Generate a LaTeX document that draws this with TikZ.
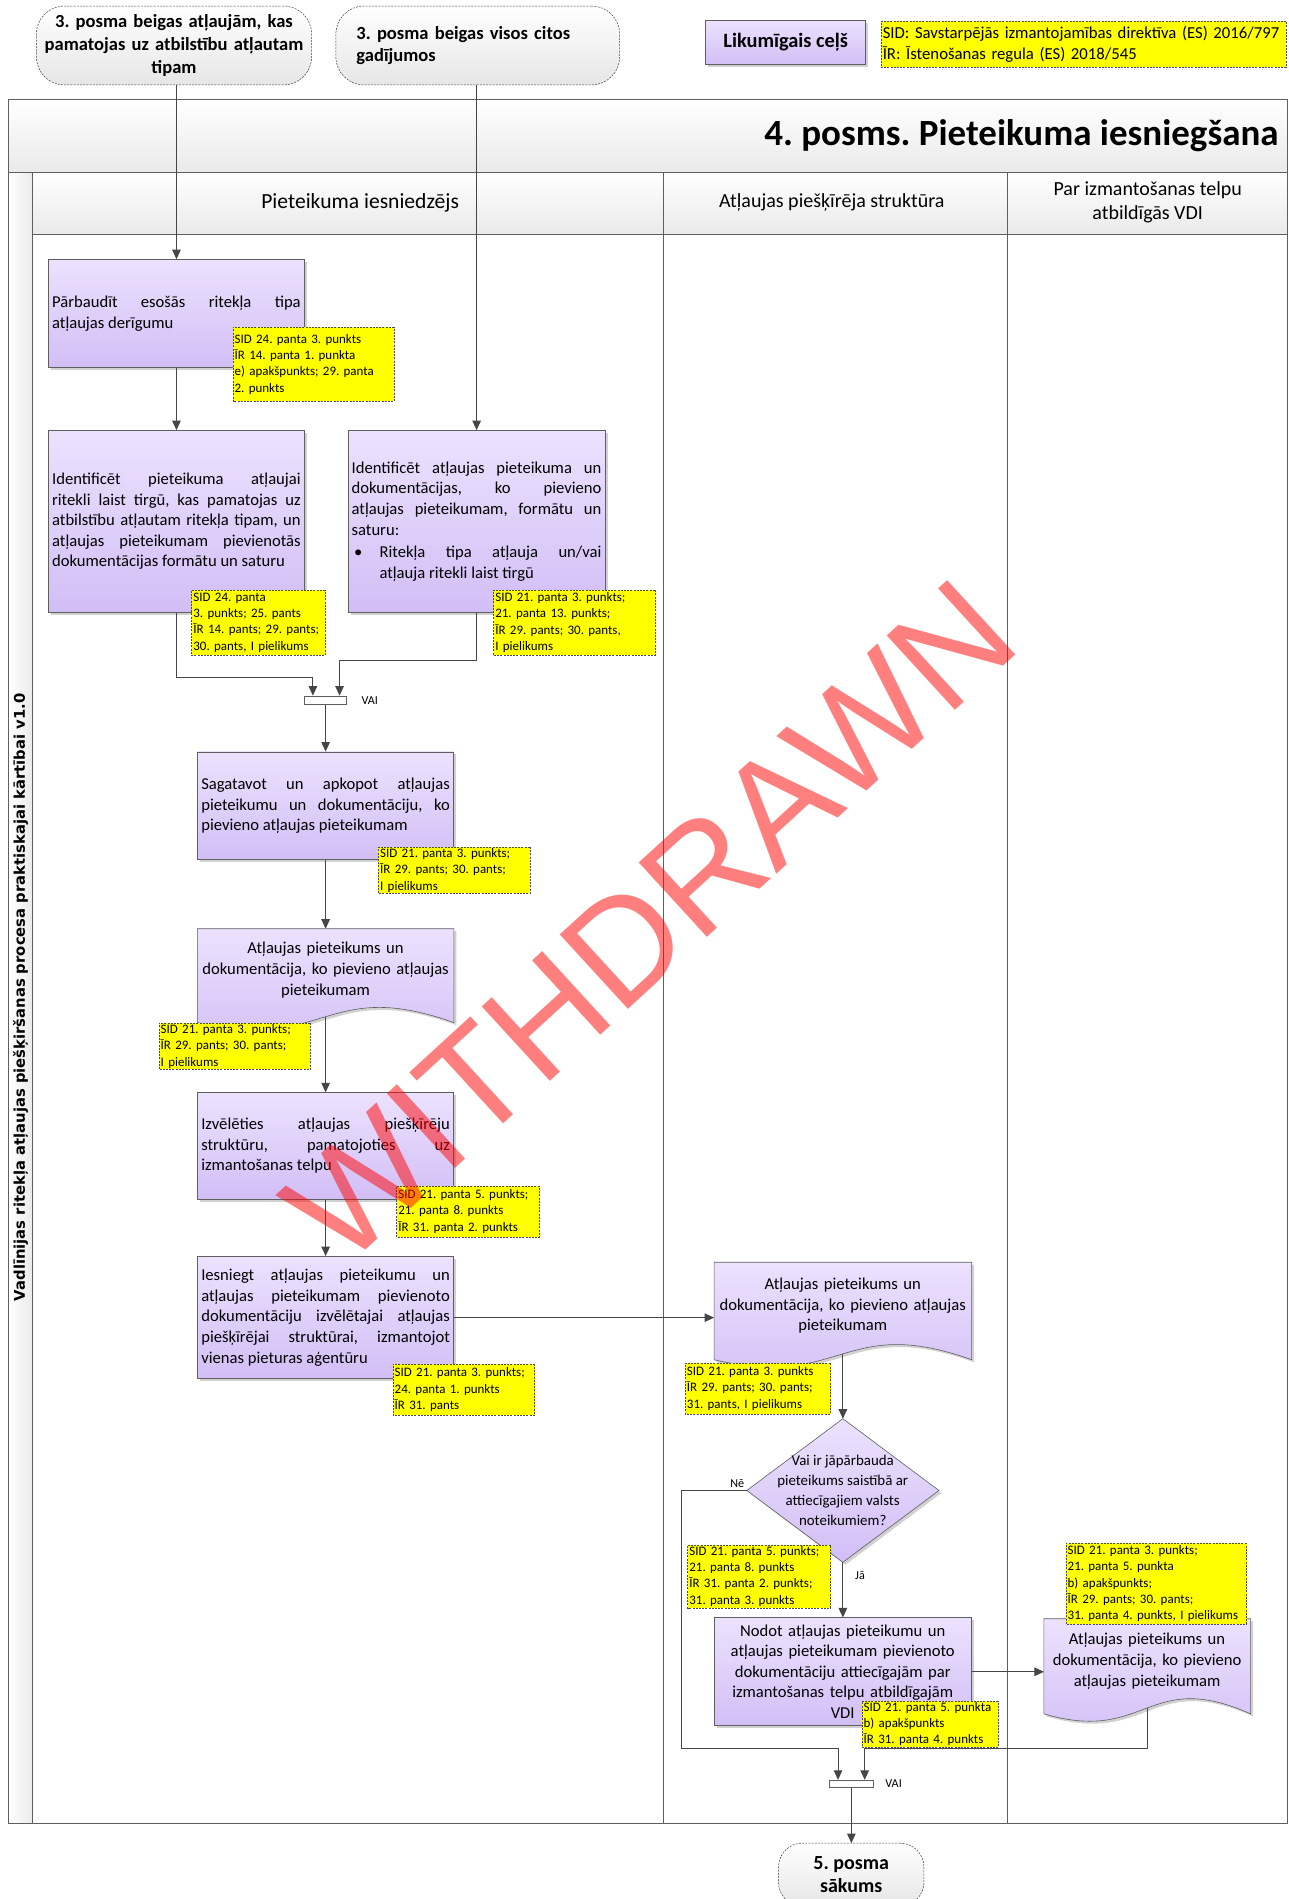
\documentclass[tikz,border=0pt]{standalone}
\usepackage{fontspec}
\setmainfont{Carlito}
\newfontfamily\verdfont{DejaVu Sans}
\newfontfamily\wmfont{Liberation Sans}
\usetikzlibrary{calc,shadows,arrows.meta}
\pgfdeclarelayer{bg}
\pgfsetlayers{bg,main}
\definecolor{lineg}{RGB}{95,95,95}
\definecolor{connc}{RGB}{70,70,70}
\definecolor{purtop}{RGB}{236,226,254}
\definecolor{purbot}{RGB}{210,190,246}
\definecolor{notey}{RGB}{255,255,0}
\definecolor{bandbot}{RGB}{234,234,234}
\definecolor{termbot}{RGB}{230,230,230}
\tikzset{
  bodyfont/.style={font=\fontsize{13.7}{17}\selectfont},
  shade purple/.style={top color=purtop, bottom color=purbot},
  softshadow/.style={drop shadow={shadow xshift=2.5pt, shadow yshift=-2.5pt, opacity=0.3, fill=black!60}},
  procbox/.style={draw=lineg, line width=0.6pt, shade purple, softshadow, inner xsep=3pt, inner ysep=2pt, bodyfont, align=justify},
  textonly/.style={inner xsep=3pt, inner ysep=2pt, bodyfont, align=center},
  docpath/.style={draw=lineg, line width=0.6pt, shade purple, softshadow},
  notebox/.style={draw=black!70, dash pattern=on 2pt off 1.2pt, line width=0.5pt, fill=notey, inner xsep=1.5pt, inner ysep=1pt, align=left, font=\fontsize{10.7}{13.4}\selectfont},
  termbox/.style={draw=black!75, dash pattern=on 2pt off 1.2pt, line width=0.5pt, top color=white, bottom color=termbot, rounded corners=28pt, font=\bfseries\fontsize{15.3}{18.7}\selectfont},
  gatebox/.style={draw=lineg, line width=0.8pt, fill=white, inner sep=0pt},
  conn/.style={draw=connc, line width=1pt, -{Triangle[length=9.5pt,width=8.5pt]}},
  smalllbl/.style={font=\fontsize{10}{12}\selectfont, inner sep=1pt},
  poolline/.style={draw=lineg, line width=1pt},
  laneh/.style={font=\fontsize{16.5}{19.5}\selectfont, align=center},
}
\newcommand{\mydocshape}[2]{%
  \path[docpath] (#1.north west) -- (#1.north east) -- ($(#1.south east)+(0,#2)$)
    .. controls ($(#1.south)+(0,#2-38)$) and ($(#1.south)+(0,#2+25)$) .. ($(#1.south west)+(0,#2)$) -- cycle;}
\begin{document}
\frenchspacing
\begin{tikzpicture}[x=1pt, y=-1pt, scale=1.2126, every node/.append style={transform shape}]
\useasboundingbox (0,0) rectangle (1063,1566.1);

% ---------- pool ----------
\begin{pgfonlayer}{bg}
  \shade[top color=white, bottom color=bandbot] (7,82) rectangle (1062,142);
  \shade[top color=white, bottom color=bandbot] (27,142) rectangle (1062,193);
  \shade[left color=white, right color=bandbot] (7,142) rectangle (27,1504);
  \draw[poolline] (7,82) rectangle (1062,1504);
  \draw[poolline] (7,142) -- (1062,142);
  \draw[poolline] (27,142) -- (27,1504);
  \draw[poolline] (27,193) -- (1062,193);
  \draw[poolline] (547,142) -- (547,1504);
  \draw[poolline] (831,142) -- (831,1504);
\end{pgfonlayer}

\node[anchor=east, font=\bfseries\fontsize{30.5}{34}\selectfont] (ttl) at (1058,112) {4. posms. Pieteikuma iesniegšana};
\node[laneh, font=\fontsize{17.8}{19.5}\selectfont] (H1) at (297,167) {Pieteikuma iesniedzējs};
\node[laneh] (H2) at (686,167) {Atļaujas piešķīrēja struktūra};
\node[laneh] (H3) at (946.5,167) {Par izmantošanas telpu\\atbildīgās VDI};
\node[rotate=90, font=\verdfont\bfseries\fontsize{12.2}{14}\selectfont] (VT) at (17,822.5) {Vadlīnijas ritekļa atļaujas piešķiršanas procesa praktiskajai kārtībai v1.0};

% ---------- top ----------
\node[termbox, minimum width=227pt, minimum height=65pt, text width=215pt, align=center] (T1) at (143.5,37.5) {3. posma beigas atļaujām, kas\\pamatojas uz atbilstību atļautam\\tipam};
\node[termbox, minimum width=234pt, minimum height=65pt, text width=200pt, align=left] (T2) at (394,37.5) {3. posma beigas visos citos\\gadījumos};
\node[draw=lineg, line width=0.6pt, shade purple, softshadow, minimum width=132pt, minimum height=36pt, font=\bfseries\fontsize{16.8}{19}\selectfont] (LC) at (648,35) {Likumīgais ceļš};
\node[notebox, minimum width=334pt, minimum height=38pt, text width=331pt, font=\fontsize{13.8}{17}\selectfont] (LEG) at (893.5,36.5) {SID: Savstarpējās izmantojamības direktīva (ES) 2016/797\\ĪR: Īstenošanas regula (ES) 2018/545};

% ---------- lane 1 ----------
\node[procbox, minimum width=211pt, minimum height=89pt, text width=205pt] (P1) at (145.5,258.5) {Pārbaudīt esošās ritekļa tipa\linebreak atļaujas derīgumu};
\node[procbox, minimum width=211pt, minimum height=150pt, text width=205pt] (P2) at (145.5,430) {Identificēt pieteikuma atļaujai\linebreak ritekli laist tirgū, kas pamatojas uz\linebreak atbilstību atļautam ritekļa tipam, un\linebreak atļaujas pieteikumam pievienotās\linebreak dokumentācijas formātu un saturu};
\node[procbox, minimum width=212pt, minimum height=150pt, text width=206pt] (P3) at (393,430) {Identificēt atļaujas pieteikuma un\linebreak dokumentācijas, ko pievieno\linebreak atļaujas pieteikumam, formātu un\linebreak saturu:\par\vspace{1.5pt}\noindent\makebox[23pt][l]{\hspace{2pt}\textbullet}\parbox[t]{183pt}{Ritekļa tipa atļauja un/vai\linebreak atļauja ritekli laist tirgū}};
\node[gatebox, minimum width=35pt, minimum height=7pt] (G1) at (268.5,577.5) {};
\node[smalllbl, anchor=west] (V1) at (297,577.5) {VAI};
\node[procbox, minimum width=211pt, minimum height=89pt, text width=205pt] (P4) at (268.5,664.5) {Sagatavot un apkopot atļaujas\linebreak pieteikumu un dokumentāciju, ko\linebreak pievieno atļaujas pieteikumam};
\node[textonly, minimum width=211pt, minimum height=68pt, text width=205pt] (D1) at (268.5,800) {Atļaujas pieteikums un\\dokumentācija, ko pievieno atļaujas\\pieteikumam};
\node[procbox, minimum width=211pt, minimum height=88pt, text width=205pt] (P5) at (268.5,945) {Izvēlēties atļaujas piešķīrēju\linebreak struktūru, pamatojoties uz\linebreak izmantošanas telpu};
\node[procbox, minimum width=211pt, minimum height=101pt, text width=205pt] (P6) at (268.5,1086.5) {Iesniegt atļaujas pieteikumu un\linebreak atļaujas pieteikumam pievienoto\linebreak dokumentāciju izvēlētajai atļaujas\linebreak piešķīrējai struktūrai, izmantojot\linebreak vienas pieturas aģentūru};

% ---------- lane 2 ----------
\node[textonly, minimum width=212pt, minimum height=72pt, text width=206pt] (D2) at (695,1077) {Atļaujas pieteikums un\\dokumentācija, ko pievieno atļaujas\\pieteikumam};
\node[textonly, minimum width=158pt, minimum height=118pt, font=\fontsize{12.3}{16.5}\selectfont] (Dm) at (695,1229) {Vai ir jāpārbauda\\pieteikums saistībā ar\\attiecīgajiem valsts\\noteikumiem?};
\node[procbox, align=center, minimum width=212pt, minimum height=89pt, text width=206pt] (P7) at (695,1378.5) {Nodot atļaujas pieteikumu un\\atļaujas pieteikumam pievienoto\\dokumentāciju attiecīgajām par\\izmantošanas telpu atbildīgajām\\VDI};
\node[gatebox, minimum width=36pt, minimum height=6pt] (G2) at (702,1471) {};
\node[smalllbl, anchor=west] (V2) at (729,1471) {VAI};
\node[termbox, minimum width=120pt, minimum height=52pt, rounded corners=24pt, align=center, font=\bfseries\fontsize{16.5}{19.5}\selectfont] (E) at (702,1546) {5. posma\\sākums};

% ---------- lane 3 ----------
\node[textonly, minimum width=170pt, minimum height=70pt, text width=164pt] (D3) at (946,1370) {Atļaujas pieteikums un\\dokumentācija, ko pievieno\\atļaujas pieteikumam};

% ---------- document and decision outlines ----------
\begin{pgfonlayer}{bg}
  \mydocshape{D1}{9}
  \mydocshape{D2}{8}
  \mydocshape{D3}{8}
  \path[docpath] (Dm.north) -- (Dm.east) -- (Dm.south) -- (Dm.west) -- cycle;
\end{pgfonlayer}

% ---------- connectors ----------
\draw[conn] (T1.south -| P1.north) -- (P1.north);
\draw[conn] (T2.south -| P3.north) -- (P3.north);
\draw[conn] (P1.south) -- (P2.north);
\draw[conn] (P2.south) |- ($(G1.north)+(-10.5,-15)$) -- ($(G1.north)+(-10.5,0)$);
\draw[conn] (P3.south) |- ($(G1.north)+(11.5,-29)$) -- ($(G1.north)+(11.5,0)$);
\draw[conn] (G1.south) -- (P4.north);
\draw[conn] (P4.south) -- (D1.north);
\draw[conn] ($(D1.south)+(0,4)$) -- (P5.north);
\draw[conn] (P5.south) -- (P6.north);
\draw[conn] (P6.east) -- (P6.east -| D2.west);
\draw[conn] ($(D2.south)+(0,3)$) -- (Dm.north);
\draw[conn] (Dm.west) -- ++(-54,0) |- ($(G2.north)+(-11,-26)$) -- ($(G2.north)+(-11,0)$);
\draw[conn] (Dm.south) -- (P7.north);
\draw[conn] (P7.east) -- (P7.east -| D3.west);
\draw[conn] ($(D3.south)+(0,3)$) |- ($(G2.north)+(11,-26)$) -- ($(G2.north)+(11,0)$);
\draw[conn] (G2.south) -- (E.north);
\node[smalllbl, anchor=south east] (NE) at ($(Dm.west)+(-1,-1)$) {Nē};
\node[smalllbl, anchor=west] (JA) at ($(Dm.south)+(9,11)$) {Jā};

% ---------- notes ----------
\node[notebox, minimum width=133pt, minimum height=61pt, text width=130pt] (N1) at (258.5,300.5) {SID 24. panta 3. punkts\\ĪR 14. panta 1. punkta\\e) apakšpunkts; 29. panta\\2. punkts};
\node[notebox, minimum width=110pt, minimum height=54pt, text width=107pt] (N2) at (213,513.5) {SID 24. panta\\3. punkts; 25. pants\\ĪR 14. pants; 29. pants;\\30. pants, I pielikums};
\node[notebox, minimum width=133pt, minimum height=54pt, text width=130pt] (N3) at (473.5,513.5) {SID 21. panta 3. punkts;\\21. panta 13. punkts;\\ĪR 29. pants; 30. pants,\\I pielikums};
\node[notebox, minimum width=125pt, minimum height=37.5pt, text width=122pt] (N4) at (374.5,717.75) {SID 21. panta 3. punkts;\\ĪR 29. pants; 30. pants;\\I pielikums};
\node[notebox, minimum width=125pt, minimum height=36pt, text width=122pt] (ND1) at (193.5,863) {SID 21. panta 3. punkts;\\ĪR 29. pants; 30. pants;\\I pielikums};
\node[notebox, minimum width=118pt, minimum height=42pt, text width=115pt] (N5) at (386,999) {SID 21. panta 5. punkts;\\21. panta 8. punkts\\ĪR 31. panta 2. punkts};
\node[notebox, minimum width=117pt, minimum height=42pt, text width=114pt] (N6) at (382.5,1146) {SID 21. panta 3. punkts;\\24. panta 1. punkts\\ĪR 31. pants};
\node[notebox, minimum width=120pt, minimum height=42pt, text width=117pt] (ND2) at (625,1145) {SID 21. panta 3. punkts\\ĪR 29. pants; 30. pants;\\31. pants, I pielikums};
\node[notebox, minimum width=118pt, minimum height=52pt, text width=115pt] (NDm) at (626,1300) {SID 21. panta 5. punkts;\\21. panta 8. punkts\\ĪR 31. panta 2. punkts;\\31. panta 3. punkts};
\node[notebox, minimum width=112.5pt, minimum height=38pt, text width=109.5pt] (N7) at (767,1422) {SID 21. panta 5. punkta\\b) apakšpunkts\\ĪR 31. panta 4. punkts};
\node[notebox, minimum width=149pt, minimum height=66.5pt, text width=146pt] (ND3) at (953.5,1306) {SID 21. panta 3. punkts;\\21. panta 5. punkta\\b) apakšpunkts;\\ĪR 29. pants; 30. pants;\\31. panta 4. punkts, I pielikums};

% ---------- watermark ----------
\node[rotate=42.5, text=red, text opacity=0.5, inner sep=0pt, font=\wmfont\fontsize{121}{122}\selectfont] (WM) at (536,760) {WITHDRAWN};
\end{tikzpicture}
\end{document}
